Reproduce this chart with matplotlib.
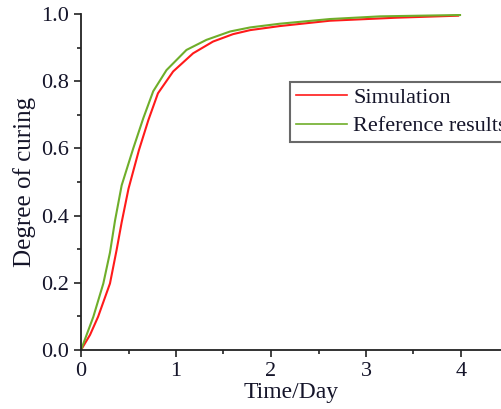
import matplotlib
matplotlib.use("Agg")
import matplotlib.pyplot as plt
from matplotlib.ticker import MultipleLocator

# curves
sim_t = [0, 0.095, 0.18, 0.305, 0.375, 0.428, 0.5, 0.61, 0.71, 0.81, 0.97, 1.18, 1.39, 1.60, 1.78, 2.09, 2.62, 3.32, 3.97]
sim_v = [0, 0.045, 0.099, 0.198, 0.298, 0.38, 0.48, 0.595, 0.685, 0.764, 0.829, 0.883, 0.918, 0.94, 0.952, 0.964, 0.98, 0.989, 0.995]
ref_t = [0, 0.13, 0.235, 0.305, 0.358, 0.428, 0.55, 0.656, 0.76, 0.90, 1.11, 1.32, 1.57, 1.78, 2.09, 2.62, 3.15, 3.99]
ref_v = [0, 0.099, 0.198, 0.29, 0.385, 0.49, 0.60, 0.69, 0.77, 0.833, 0.893, 0.923, 0.948, 0.96, 0.971, 0.985, 0.993, 0.997]

plt.rcParams['font.family'] = ['Liberation Serif', 'DejaVu Serif']
txt = '#15152a'

fig = plt.figure(figsize=(5.01, 4.09), dpi=100)
ax = fig.add_axes([81/501, 59/409, 1 - 81/501, (350-14)/409])

ax.plot(sim_t, sim_v, color='#ff1a1a', lw=1.5, label='Simulation')
ax.plot(ref_t, ref_v, color='#6fae2a', lw=1.5, label='Reference results')

ax.set_xlim(0, 420/95.0)
ax.set_ylim(0, 1.0)
ax.xaxis.set_major_locator(MultipleLocator(1))
ax.xaxis.set_minor_locator(MultipleLocator(0.5))
ax.yaxis.set_major_locator(MultipleLocator(0.2))
ax.yaxis.set_minor_locator(MultipleLocator(0.1))
ax.yaxis.set_major_formatter(plt.FormatStrFormatter('%.1f'))

for s in ['top', 'right']:
    ax.spines[s].set_visible(False)
for s in ['left', 'bottom']:
    ax.spines[s].set_linewidth(1.3)
    ax.spines[s].set_color('#222222')
ax.tick_params(which='major', direction='out', length=5, width=1.2, labelsize=16, colors='#222222', labelcolor=txt)
ax.tick_params(which='minor', direction='out', length=3, width=1.2, colors='#222222')

ax.set_xlabel('Time/Day', fontsize=17, color=txt, labelpad=1)
ax.set_ylabel('Degree of curing', fontsize=18, color=txt, labelpad=4)

leg = ax.legend(loc='upper left', bbox_to_anchor=(290/501, 1 - 82/409), bbox_transform=fig.transFigure,
                fontsize=16, frameon=True, fancybox=False, borderpad=0.25, handlelength=2.3,
                handletextpad=0.3, labelspacing=0.35, borderaxespad=0)
leg.get_frame().set_edgecolor('#444444')
leg.get_frame().set_linewidth(1.5)
for t in leg.get_texts():
    t.set_color(txt)
for h in leg.get_lines():
    h.set_linewidth(1.2)

fig.savefig('out.png', dpi=100)
